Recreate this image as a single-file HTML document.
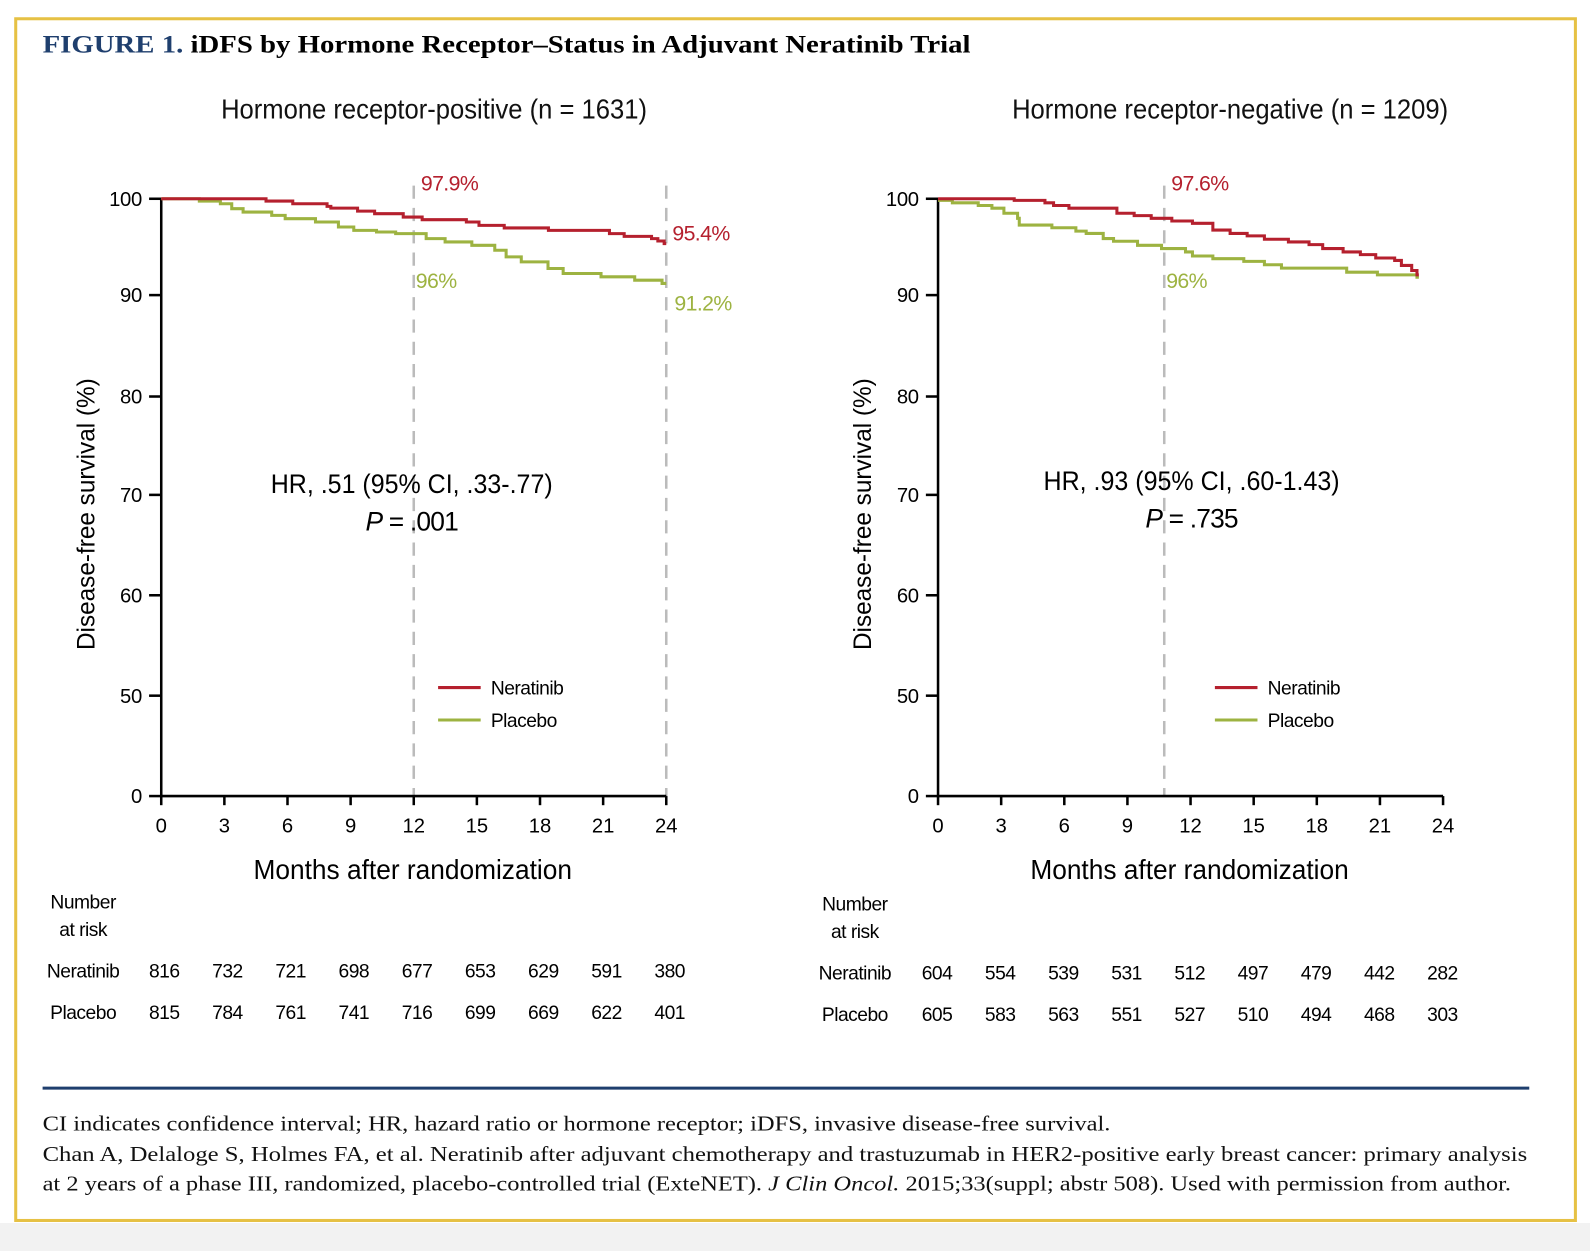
<!DOCTYPE html>
<html><head><meta charset="utf-8">
<style>
body{margin:0;width:1590px;height:1234px;background:#f2f2f2;overflow:hidden;position:relative;font-family:"Liberation Sans",sans-serif}
#wrap{position:absolute;left:0;top:0;width:1568px;height:1217px;transform:scale(1.0141);transform-origin:0 0;background:#fff}
#frame{position:absolute;left:14px;top:17px;width:1535px;height:1182px;border:3px solid #e6c144;background:#fff}
#below{position:absolute;left:0;top:1206px;width:1568px;height:28px;background:#f2f2f2}
svg{position:absolute;left:0;top:0}
</style></head><body>
<div id="wrap">
<div id="below"></div>
<div id="frame"></div>
<svg id="fig" width="1568" height="1217">
<text x="42" y="52" font-family="Liberation Serif,serif" font-weight="bold" font-size="25" textLength="915" lengthAdjust="spacingAndGlyphs"><tspan fill="#1f3f6e">FIGURE 1.</tspan> iDFS by Hormone Receptor–Status in Adjuvant Neratinib Trial</text>
<line x1="42" y1="1073" x2="1508" y2="1073" stroke="#1f3f6e" stroke-width="3"/>
<g font-family="Liberation Serif,serif" font-size="21" fill="#111">
<text x="42" y="1115" textLength="1053" lengthAdjust="spacingAndGlyphs">CI indicates confidence interval; HR, hazard ratio or hormone receptor; iDFS, invasive disease-free survival.</text>
<text x="42" y="1145" textLength="1464" lengthAdjust="spacingAndGlyphs">Chan A, Delaloge S, Holmes FA, et al. Neratinib after adjuvant chemotherapy and trastuzumab in HER2-positive early breast cancer: primary analysis</text>
<text x="42" y="1174" textLength="1448" lengthAdjust="spacingAndGlyphs">at 2 years of a phase III, randomized, placebo-controlled trial (ExteNET). <tspan font-style="italic">J Clin Oncol.</tspan> 2015;33(suppl; abstr 508). Used with permission from author.</text>
</g>
</svg>
</div>
<script>
// ---- data ----
const xTicks=[0,3,6,9,12,15,18,21,24];
const yTicks=[0,50,60,70,80,90,100];
const leftNeratinib=[[0,100],[4.98,99.76],[6.25,99.48],[7.88,99.21],[8.06,99.03],[9.33,98.72],[10.14,98.45],[11.5,98.10],[12.4,97.83],[14.5,97.59],[15.1,97.24],[16.3,96.97],[18.4,96.72],[21.3,96.38],[22.0,96.10],[23.3,95.86],[23.6,95.62],[23.9,95.34],[24,95.34]];
const leftPlacebo=[[0,100],[1.81,99.76],[2.81,99.48],[3.35,98.97],[3.89,98.62],[5.25,98.28],[5.89,97.93],[7.33,97.59],[8.42,97.07],[9.15,96.72],[10.23,96.55],[11.14,96.38],[12.59,95.86],[13.49,95.52],[14.76,95.17],[15.85,94.66],[16.39,93.97],[17.11,93.45],[18.38,92.76],[19.1,92.24],[20.9,91.90],[22.5,91.55],[23.8,91.21],[24,91.21]];
const rightNeratinib=[[0,100],[3.62,99.83],[5.08,99.58],[5.49,99.30],[6.22,99.02],[8.5,98.5],[9.32,98.25],[10.13,97.97],[11.11,97.69],[12.09,97.45],[13.06,96.75],[13.88,96.40],[14.69,96.15],[15.51,95.80],[16.65,95.52],[17.63,95.24],[18.28,94.83],[19.25,94.48],[20.07,94.20],[20.8,93.85],[21.7,93.60],[22.02,93.08],[22.51,92.55],[22.76,92.10],[22.85,92.10]];
const rightPlacebo=[[0,99.83],[0.68,99.58],[1.91,99.30],[2.56,99.02],[3.13,98.50],[3.78,97.97],[3.86,97.27],[5.41,96.99],[6.55,96.64],[7.04,96.40],[7.85,95.87],[8.34,95.59],[9.48,95.17],[10.62,94.83],[11.76,94.48],[12.09,94.06],[13.06,93.78],[14.53,93.50],[15.51,93.15],[16.32,92.80],[19.42,92.38],[20.88,92.10],[22.76,91.85],[22.85,91.85]];
const riskLeftNeratinib=[816,732,721,698,677,653,629,591,380];
const riskLeftPlacebo=[815,784,761,741,716,699,669,622,401];
const riskRightNeratinib=[604,554,539,531,512,497,479,442,282];
const riskRightPlacebo=[605,583,563,551,527,510,494,468,303];

const NS='http://www.w3.org/2000/svg';
const svg=document.getElementById('fig');
const yPix=[785,686,587,488,391,291,196];
function yScale(v){for(let i=0;i<yTicks.length-1;i++){if(v<=yTicks[i+1]){const t=(v-yTicks[i])/(yTicks[i+1]-yTicks[i]);return yPix[i]+t*(yPix[i+1]-yPix[i]);}}return yPix[yPix.length-1];}
function mk(tag,attrs,parent,txt){const e=document.createElementNS(NS,tag);for(const k in attrs)e.setAttribute(k,attrs[k]);if(txt!==undefined)e.textContent=txt;(parent||svg).appendChild(e);return e;}
const RED='#b5202e',GRN='#9db341';

function panel(o){
  const x0=o.x0,xs=m=>x0+m*498/24;
  const g=mk('g',{});
  
  
  const t=mk('text',{x:o.tcx,y:117,'text-anchor':'middle','font-size':27,textLength:o.tlen,lengthAdjust:'spacingAndGlyphs',fill:'#111'},g,o.title);
  
  
  o.dashes.forEach(m=>{const d=mk('line',{x1:xs(m),x2:xs(m),y1:183,y2:785,stroke:'#bbb','stroke-width':2.5,'stroke-dasharray':'13,9'},g);
    
    });
  const ax=mk('path',{d:`M${x0},196V785H${x0+498}`,stroke:'#000','stroke-width':2.5,fill:'none'},g);
  
  
  yTicks.forEach(v=>{const y=yScale(v);mk('line',{x1:x0-12,x2:x0,y1:y,y2:y,stroke:'#000','stroke-width':2.5},g);
    const l=mk('text',{x:x0-19,y:y+7,'text-anchor':'end','font-size':20,'letter-spacing':'-0.3'},g,String(v));
    
    });
  xTicks.forEach(m=>{const x=xs(m);mk('line',{x1:x,x2:x,y1:785,y2:794,stroke:'#000','stroke-width':2.5},g);
    const l=mk('text',{x:x,y:821,'text-anchor':'middle','font-size':20},g,String(m));
    
    });
  const yt=mk('text',{transform:`translate(${o.ytx},507) rotate(-90)`,'text-anchor':'middle','font-size':25,textLength:268,lengthAdjust:'spacingAndGlyphs'},g,'Disease-free survival (%)');
  
  
  const xt=mk('text',{x:x0+248,y:867,'text-anchor':'middle','font-size':27,textLength:314,lengthAdjust:'spacingAndGlyphs'},g,'Months after randomization');
  
  
  [[o.pla,GRN,'placebo-curve'],[o.ner,RED,'neratinib-curve']].forEach(([data,c,n])=>{
    let d=`M${xs(data[0][0])},${yScale(data[0][1])}`;
    for(let i=1;i<data.length;i++){d+=`H${xs(data[i][0])}V${yScale(data[i][1])}`;}
    const p=mk('path',{d:d,stroke:c,'stroke-width':3,fill:'none'},g);
    
    
  });
  o.ann.forEach(a=>{const e=mk('text',{x:a[0],y:a[1],fill:a[3],'font-size':21,'letter-spacing':'-0.6'},g,a[2]);
    
    });
  const hr=mk('text',{x:o.hrx,y:o.hry,'text-anchor':'middle','font-size':26,textLength:o.hrlen,lengthAdjust:'spacingAndGlyphs'},g,o.hr);
  
  
  const pv=mk('text',{x:o.hrx,y:o.hry+37,'text-anchor':'middle','font-size':26,'letter-spacing':'-0.8'},g);
  
  
  mk('tspan',{'font-style':'italic'},pv,'P');mk('tspan',{},pv,' = '+o.p);
  [[RED,'Neratinib',678],[GRN,'Placebo',710]].forEach(([c,n,y])=>{
    const le=mk('g',{},g);
    
    
    mk('line',{x1:o.lgx,x2:o.lgx+42,y1:y,y2:y,stroke:c,'stroke-width':3},le);
    mk('text',{x:o.lgx+52,y:y+7,'font-size':19,'letter-spacing':'-0.5'},le,n);
  });
  const rt=mk('g',{'font-size':19,'letter-spacing':'-0.5','text-anchor':'middle'},g);
  
  
  mk('text',{x:o.rlx,y:o.ry},rt,'Number');
  mk('text',{x:o.rlx,y:o.ry+27},rt,'at risk');
  [['Neratinib',o.rn,o.ry+68],['Placebo',o.rp,o.ry+109]].forEach(([n,arr,y])=>{
    mk('text',{x:o.rlx,y:y},rt,n);
    arr.forEach((v,i)=>{const c=mk('text',{x:o.rcx+i*62.3,y:y},rt,String(v));
      
      });
  });
}
panel({id:'hr-positive',x0:159,tcx:428,tlen:420,title:'Hormone receptor-positive (n = 1631)',dashes:[12,24],ytx:93,
  ner:leftNeratinib,pla:leftPlacebo,
  ann:[[415,188,'97.9%',RED],[663,237,'95.4%',RED],[410,284,'96%',GRN],[665,306,'91.2%',GRN]],
  hr:'HR, .51 (95% CI, .33-.77)',hrlen:278,hrx:406,hry:486,p:'.001',lgx:432,
  rlx:82,ry:896,rcx:162,rn:riskLeftNeratinib,rp:riskLeftPlacebo});
panel({id:'hr-negative',x0:925,tcx:1213,tlen:430,title:'Hormone receptor-negative (n = 1209)',dashes:[10.75],ytx:859,
  ner:rightNeratinib,pla:rightPlacebo,
  ann:[[1155,188,'97.6%',RED],[1150,284,'96%',GRN]],
  hr:'HR, .93 (95% CI, .60-1.43)',hrlen:292,hrx:1175,hry:483,p:'.735',lgx:1198,
  rlx:843,ry:898,rcx:924,rn:riskRightNeratinib,rp:riskRightPlacebo});
</script>
</body></html>
